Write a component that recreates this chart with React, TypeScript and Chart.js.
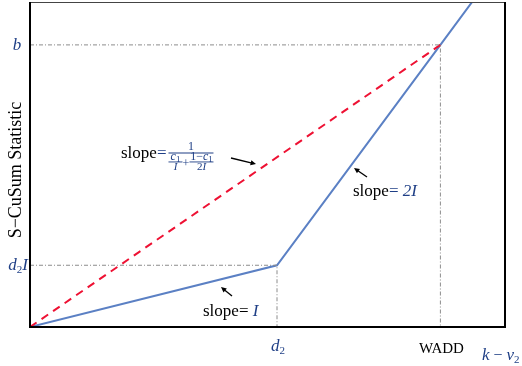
import { useEffect, useRef } from 'react';
import { Chart, registerables } from 'chart.js';

Chart.register(...registerables);

// Axis ranges (schematic units)
const X_MAX = 5;
const Y_MAX = 5;

// Key positions on the axes
const D2 = 2.6;
const WADD = 4.32;
const D2I = 0.95;
const B = 4.34;

// S-CuSum statistic path: slope I until d2, then slope 2I past the threshold
const cusumX = [0, D2, WADD, 4.82];
const cusumY = [0, D2I, B, 5.33];

// Equivalent straight-line growth reaching b at WADD
const boundX = [0, WADD];
const boundY = [0, B];

// Dash-dot reference lines
const guideBX = [0, WADD, WADD];
const guideBY = [B, B, 0];
const guideDX = [0, D2, D2];
const guideDY = [D2I, D2I, 0];

const MATH_BLUE = '#1f3f86';
const SERIF = "'Liberation Serif', 'Times New Roman', serif";

const pts = (xs: number[], ys: number[]) => xs.map((x, i) => ({ x, y: ys[i] }));

type Run = { t: string; size: number; italic?: boolean; dy?: number; color?: string };

function runsWidth(ctx: CanvasRenderingContext2D, runs: Run[]) {
  let w = 0;
  for (const r of runs) {
    ctx.font = `${r.italic ? 'italic ' : ''}${r.size}px ${SERIF}`;
    w += ctx.measureText(r.t).width;
  }
  return w;
}

function drawRuns(
  ctx: CanvasRenderingContext2D,
  x: number,
  y: number,
  runs: Run[],
  align: 'left' | 'center' | 'right' = 'left'
) {
  const w = runsWidth(ctx, runs);
  let cx = align === 'left' ? x : align === 'center' ? x - w / 2 : x - w;
  ctx.textAlign = 'left';
  ctx.textBaseline = 'alphabetic';
  for (const r of runs) {
    ctx.font = `${r.italic ? 'italic ' : ''}${r.size}px ${SERIF}`;
    ctx.fillStyle = r.color ?? MATH_BLUE;
    ctx.fillText(r.t, cx, y + (r.dy ?? 0));
    cx += ctx.measureText(r.t).width;
  }
  return cx;
}

function arrow(ctx: CanvasRenderingContext2D, x1: number, y1: number, x2: number, y2: number) {
  const a = Math.atan2(y2 - y1, x2 - x1);
  const h = 6;
  ctx.save();
  ctx.strokeStyle = '#000';
  ctx.fillStyle = '#000';
  ctx.lineWidth = 1.3;
  ctx.beginPath();
  ctx.moveTo(x1, y1);
  ctx.lineTo(x2 - Math.cos(a) * 3, y2 - Math.sin(a) * 3);
  ctx.stroke();
  ctx.beginPath();
  ctx.moveTo(x2, y2);
  ctx.lineTo(x2 - h * Math.cos(a - 0.45), y2 - h * Math.sin(a - 0.45));
  ctx.lineTo(x2 - h * Math.cos(a + 0.45), y2 - h * Math.sin(a + 0.45));
  ctx.closePath();
  ctx.fill();
  ctx.restore();
}

const decorations = {
  id: 'decorations',
  afterDraw(chart: Chart) {
    const ctx = chart.ctx;
    const { left, top, right, bottom } = chart.chartArea;
    const xs = chart.scales.x;
    const ys = chart.scales.y;
    ctx.save();

    // Frame: thin top edge, heavier left/bottom/right edges
    ctx.strokeStyle = '#444';
    ctx.lineWidth = 1;
    ctx.beginPath();
    ctx.moveTo(left, top + 0.5);
    ctx.lineTo(right, top + 0.5);
    ctx.stroke();
    ctx.strokeStyle = '#000';
    ctx.lineWidth = 2;
    ctx.beginPath();
    ctx.moveTo(left, top);
    ctx.lineTo(left, bottom);
    ctx.lineTo(right, bottom);
    ctx.lineTo(right, top);
    ctx.stroke();

    // Y-axis marks
    const yb = ys.getPixelForValue(B);
    const yd = ys.getPixelForValue(D2I);
    drawRuns(ctx, 17, yb + 5, [{ t: 'b', size: 17, italic: true }], 'center');
    drawRuns(
      ctx,
      left - 2,
      yd + 5,
      [
        { t: 'd', size: 17, italic: true },
        { t: '2', size: 11, dy: 3 },
        { t: 'I', size: 17, italic: true },
      ],
      'right'
    );

    // X-axis marks
    const xd = xs.getPixelForValue(D2);
    const xw = xs.getPixelForValue(WADD);
    drawRuns(
      ctx,
      xd + 1,
      bottom + 24,
      [
        { t: 'd', size: 17, italic: true },
        { t: '2', size: 11, dy: 3 },
      ],
      'center'
    );
    drawRuns(ctx, xw + 1, bottom + 26, [{ t: 'WADD', size: 15, color: '#000' }], 'center');
    drawRuns(ctx, 482, bottom + 33, [
      { t: 'k', size: 17, italic: true },
      { t: ' − ', size: 16 },
      { t: 'ν', size: 17, italic: true },
      { t: '2', size: 11, dy: 3 },
    ]);

    // Y-axis title
    ctx.save();
    ctx.translate(21, 170);
    ctx.rotate(-Math.PI / 2);
    ctx.font = `18px ${SERIF}`;
    ctx.fillStyle = '#000';
    ctx.textAlign = 'center';
    ctx.textBaseline = 'alphabetic';
    ctx.fillText('S−CuSum Statistic', 0, 0);
    ctx.restore();

    // slope annotation for the dashed line
    let cx = drawRuns(ctx, 121, 158, [{ t: 'slope', size: 17, color: '#000' }]);
    cx = drawRuns(ctx, cx, 158, [{ t: '=', size: 17 }]);
    const fx0 = cx + 2;
    const fx1 = fx0 + 45;
    ctx.fillStyle = MATH_BLUE;
    ctx.fillRect(fx0, 152.5, fx1 - fx0, 1);
    drawRuns(ctx, (fx0 + fx1) / 2, 150, [{ t: '1', size: 12 }], 'center');
    // c1 / I
    drawRuns(
      ctx,
      fx0 + 7,
      160,
      [
        { t: 'c', size: 12, italic: true },
        { t: '1', size: 9, dy: 2 },
      ],
      'center'
    );
    ctx.fillRect(fx0, 161.5, 14, 0.9);
    drawRuns(ctx, fx0 + 7, 170, [{ t: 'I', size: 11, italic: true }], 'center');
    drawRuns(ctx, fx0 + 17.5, 167, [{ t: '+', size: 12 }], 'center');
    // (1 - c1) / 2I
    drawRuns(
      ctx,
      fx0 + 33,
      160,
      [
        { t: '1−', size: 12 },
        { t: 'c', size: 12, italic: true },
        { t: '1', size: 9, dy: 2 },
      ],
      'center'
    );
    ctx.fillRect(fx0 + 21, 161.5, 24, 0.9);
    drawRuns(
      ctx,
      fx0 + 33,
      170,
      [
        { t: '2', size: 11 },
        { t: 'I', size: 11, italic: true },
      ],
      'center'
    );
    arrow(ctx, 231, 158, 256, 164);

    // slope = 2I
    cx = drawRuns(ctx, 353, 196, [{ t: 'slope', size: 17, color: '#000' }]);
    drawRuns(ctx, cx, 196, [
      { t: '= ', size: 17 },
      { t: '2I', size: 17, italic: true },
    ]);
    arrow(ctx, 367, 177, 354, 168);

    // slope = I
    cx = drawRuns(ctx, 203, 316, [{ t: 'slope', size: 17, color: '#000' }]);
    drawRuns(ctx, cx, 316, [
      { t: '= ', size: 17, color: '#000' },
      { t: 'I', size: 17, italic: true },
    ]);
    arrow(ctx, 232, 296, 221, 287);

    ctx.restore();
  },
};

export default function App() {
  const ref = useRef<HTMLCanvasElement | null>(null);

  useEffect(() => {
    if (!ref.current) return;
    const guide = {
      borderColor: '#8c8c8c',
      borderWidth: 1,
      borderDash: [4, 2, 1, 2],
      pointRadius: 0,
      showLine: true,
      fill: false,
    };
    const chart = new Chart(ref.current, {
      type: 'scatter',
      data: {
        datasets: [
          { ...guide, data: pts(guideBX, guideBY) },
          { ...guide, data: pts(guideDX, guideDY) },
          {
            data: pts(boundX, boundY),
            borderColor: '#ee1133',
            borderWidth: 2,
            borderDash: [8, 6],
            pointRadius: 0,
            showLine: true,
          },
          {
            data: pts(cusumX, cusumY),
            borderColor: '#5b80c4',
            borderWidth: 2,
            pointRadius: 0,
            showLine: true,
          },
        ],
      },
      options: {
        responsive: false,
        animation: false,
        layout: { padding: { left: 30, top: 2, right: 17, bottom: 39 } },
        plugins: { legend: { display: false }, tooltip: { enabled: false } },
        scales: {
          x: { type: 'linear', min: 0, max: X_MAX, display: false },
          y: { type: 'linear', min: 0, max: Y_MAX, display: false },
        },
      },
      plugins: [decorations],
    });
    return () => chart.destroy();
  }, []);

  return (
    <div style={{ position: 'fixed', left: 0, top: 0, width: 522, height: 366, background: '#fff' }}>
      <canvas ref={ref} width={522} height={366} />
    </div>
  );
}
